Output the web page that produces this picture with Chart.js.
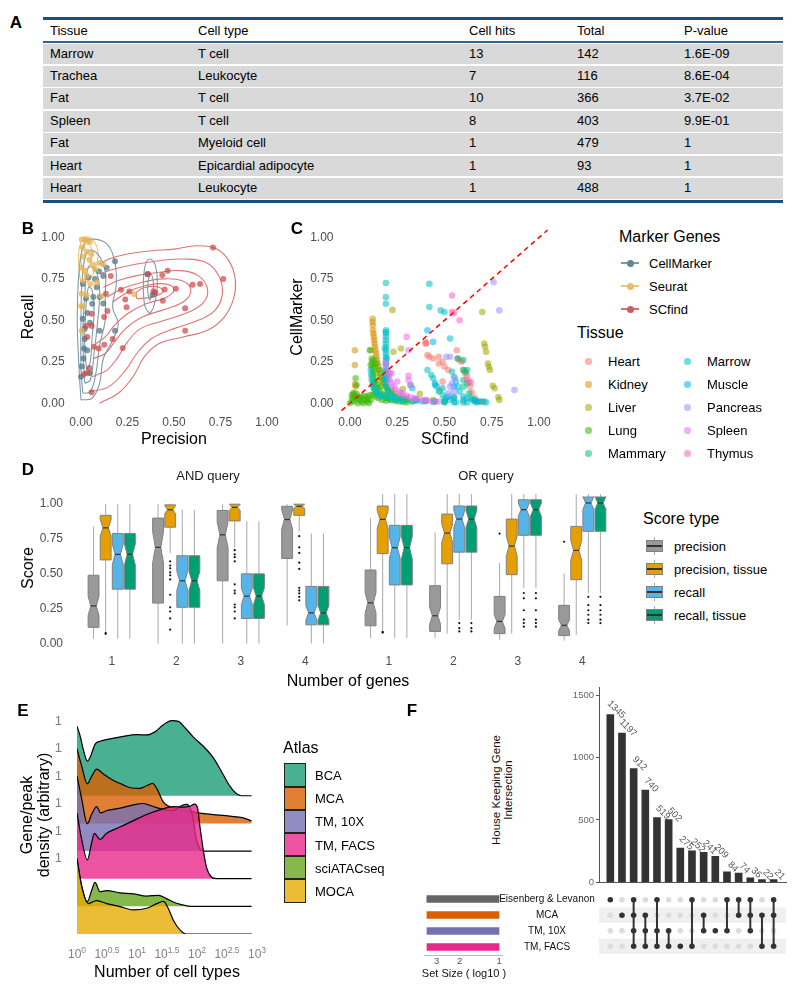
<!DOCTYPE html>
<html>
<head>
<meta charset="utf-8">
<script src="https://cdn.jsdelivr.net/npm/chart.js"></script>
<style>
  body { margin: 0; background: #fff; font-family: "Liberation Sans", Arial, sans-serif; }
  #page { position: relative; width: 800px; height: 993px; overflow: hidden; }
  #page canvas { position: absolute; }
  .abs { position: absolute; white-space: nowrap; line-height: 1; }
  .row { position: absolute; left: 0; width: 740px; background: #d9d9d9; font-size: 13px; }
  .row span, .hdr span { position: absolute; top: 0; }
  .hdr { position: absolute; left: 0; width: 740px; font-size: 13px; }
  .rule { position: absolute; left: 0; width: 740px; }
</style>
</head>
<body>
<div id="page"></div>
<script>
// ---------- A: table ----------
const tableTissue = ['Marrow', 'Trachea', 'Fat', 'Spleen', 'Fat', 'Heart', 'Heart'];
const tableCellType = ['T cell', 'Leukocyte', 'T cell', 'T cell', 'Myeloid cell', 'Epicardial adipocyte', 'Leukocyte'];
const tableCellHits = [13, 7, 10, 8, 1, 1, 1];
const tableTotal = [142, 116, 366, 403, 479, 93, 488];
const tablePValue = ['1.6E-09', '8.6E-04', '3.7E-02', '9.9E-01', '1', '1', '1'];
const tableHeader = ['Tissue', 'Cell type', 'Cell hits', 'Total', 'P-value'];

// ---------- B: precision / recall ----------
const cellMarkerPts = [[0.183,0.856],[0.138,0.817],[0.097,0.797],[0.075,0.749],[0.04,0.758],[0.01,0.72],[0.12,0.768],
  [0.084,0.70],[0.027,0.632],[0.066,0.641],[0.1,0.641],[0.12,0.602],[0.009,0.509],[0.034,0.544],[0.048,0.485],
  [0.1,0.437],[0.183,0.437],[0.357,0.778],[0.385,0.655],[0.016,0.33],[0.013,0.27],[0.004,0.222],[0.0,0.16],
  [0.048,0.183],[0.034,0.32],[0.02,0.388],[0.06,0.6],[0.02,0.45]];
const seuratPts = [[0.004,0.988],[0.02,0.988],[0.035,0.982],[0.048,0.973],[0.008,0.94],[0.03,0.914],[0.012,0.885],
  [0.045,0.865],[0.066,0.836],[0.004,0.817],[0.02,0.797],[0.075,0.807],[0.1,0.846],[0.12,0.836],[0.013,0.739],
  [0.05,0.72],[0.004,0.66],[0.03,0.651],[0.287,0.657],[0.0,0.587],[0.004,0.437],[0.01,0.583],[0.11,0.645],[0.084,0.729],
  [0.03,0.77],[0.055,0.9]];
const scfindPts = [[0.71,0.94],[0.765,0.75],[0.64,0.72],[0.6,0.715],[0.466,0.80],[0.437,0.774],[0.36,0.78],[0.39,0.676],
  [0.40,0.667],[0.45,0.686],[0.51,0.69],[0.44,0.618],[0.56,0.573],[0.56,0.437],[0.215,0.684],[0.26,0.674],[0.238,0.626],
  [0.245,0.579],[0.16,0.768],[0.134,0.66],[0.142,0.557],[0.124,0.52],[0.057,0.54],[0.057,0.466],[0.034,0.4],[0.17,0.388],
  [0.125,0.353],[0.224,0.333],[0.07,0.341],[0.095,0.33],[0.027,0.466],[0.045,0.212],[0.016,0.177],[0.057,0.066],[0.034,0.183]];
const scfindContours = [
  [[0.10,0.0],[0.2,0.06],[0.28,0.16],[0.34,0.28],[0.42,0.36],[0.55,0.40],[0.68,0.44],[0.77,0.52],[0.82,0.63],[0.83,0.74],[0.8,0.85],[0.73,0.93],[0.62,0.95],[0.5,0.93],[0.38,0.92],[0.25,0.9],[0.15,0.87],[0.1,0.84]],
  [[0.05,0.07],[0.15,0.1],[0.24,0.2],[0.3,0.3],[0.38,0.39],[0.5,0.45],[0.63,0.5],[0.72,0.56],[0.76,0.66],[0.74,0.77],[0.67,0.85],[0.55,0.87],[0.42,0.86],[0.3,0.84],[0.18,0.81],[0.1,0.78]],
  [[0.06,0.16],[0.14,0.2],[0.2,0.28],[0.25,0.37],[0.32,0.45],[0.45,0.5],[0.58,0.55],[0.66,0.61],[0.68,0.69],[0.63,0.77],[0.53,0.8],[0.42,0.79],[0.3,0.77],[0.2,0.74],[0.12,0.7]],
  [[0.07,0.27],[0.13,0.3],[0.18,0.37],[0.24,0.45],[0.33,0.52],[0.46,0.57],[0.56,0.62],[0.59,0.69],[0.54,0.74],[0.44,0.75],[0.33,0.73],[0.22,0.69],[0.14,0.64]],
  [[0.08,0.36],[0.13,0.4],[0.18,0.47],[0.25,0.54],[0.35,0.6],[0.46,0.64],[0.5,0.69],[0.45,0.72],[0.35,0.71],[0.25,0.67],[0.17,0.61]],
  [[0.3,0.63],[0.38,0.64],[0.44,0.67],[0.42,0.7],[0.35,0.7],[0.3,0.67],[0.3,0.63]]
];
const cellMarkerContours = [
  [[0.0,0.02],[0.06,0.03],[0.1,0.12],[0.12,0.27],[0.17,0.38],[0.2,0.48],[0.17,0.58],[0.19,0.72],[0.18,0.86],[0.14,0.96],[0.07,0.99],[0.02,0.97],[-0.01,0.8],[-0.02,0.5],[-0.01,0.2],[0.0,0.02]],
  [[0.01,0.06],[0.05,0.07],[0.08,0.18],[0.1,0.35],[0.13,0.5],[0.13,0.65],[0.13,0.8],[0.09,0.9],[0.04,0.92],[0.01,0.8],[0.0,0.5],[0.0,0.2],[0.01,0.06]],
  [[0.02,0.12],[0.05,0.14],[0.07,0.3],[0.09,0.5],[0.1,0.68],[0.08,0.8],[0.04,0.82],[0.02,0.65],[0.01,0.4],[0.02,0.12]],
  [[0.03,0.2],[0.05,0.25],[0.06,0.4],[0.07,0.55],[0.06,0.68],[0.04,0.7],[0.025,0.55],[0.02,0.35],[0.03,0.2]],
  [[0.37,0.54],[0.39,0.58],[0.41,0.7],[0.4,0.83],[0.37,0.87],[0.345,0.83],[0.335,0.7],[0.345,0.58],[0.37,0.54]],
  [[0.37,0.62],[0.385,0.66],[0.39,0.72],[0.375,0.78],[0.36,0.73],[0.36,0.66],[0.37,0.62]]
];
const seuratContours = [
  [[0.0,0.72],[0.04,0.74],[0.08,0.82],[0.09,0.92],[0.06,0.99],[0.02,1.0],[-0.01,0.93],[-0.01,0.8],[0.0,0.72]],
  [[0.01,0.8],[0.04,0.82],[0.06,0.9],[0.04,0.96],[0.01,0.94],[0.0,0.86],[0.01,0.8]]
];
const unitTicks = [0, 0.25, 0.5, 0.75, 1];

// ---------- C: SCfind vs CellMarker by tissue ----------
const tissueNames = ['Heart', 'Kidney', 'Liver', 'Lung', 'Mammary', 'Marrow', 'Muscle', 'Pancreas', 'Spleen', 'Thymus'];
const tissueColors = ['248,118,109', '216,144,0', '163,165,0', '57,182,0', '0,191,125', '0,191,196', '0,176,246', '149,144,255', '231,107,243', '255,98,188'];
const heartPts = [[0.40,0.37],[0.405,0.36],[0.41,0.29],[0.42,0.28],[0.44,0.27],[0.47,0.28],[0.47,0.24],[0.5,0.22],[0.52,0.2],
  [0.49,0.13],[0.565,0.32],[0.57,0.27],[0.58,0.26],[0.59,0.25],[0.6,0.2],[0.61,0.18],[0.62,0.165],[0.63,0.13],[0.635,0.1],
  [0.645,0.065],[0.66,0.03],[0.67,0.015],[0.7,0.008],[0.4,0.36],[0.49,0.25]];
const kidneyPts = [[0.12,0.51],[0.12,0.49],[0.121,0.47],[0.122,0.44],[0.124,0.42],[0.126,0.40],[0.128,0.38],[0.13,0.36],
  [0.132,0.34],[0.135,0.32],[0.138,0.30],[0.14,0.28],[0.143,0.26],[0.146,0.24],[0.15,0.22],[0.155,0.2],[0.16,0.18],
  [0.165,0.16],[0.17,0.14],[0.18,0.12],[0.19,0.1],[0.2,0.085],[0.22,0.07],[0.24,0.055],[0.27,0.04],[0.3,0.03],[0.35,0.02],
  [0.4,0.014],[0.45,0.01],[0.5,0.008],[0.026,0.32],[0.026,0.23],[0.027,0.115],[0.03,0.1],[0.02,0.06]];
const liverPts = [[0.225,0.563],[0.23,0.31],[0.27,0.33],[0.28,0.086],[0.37,0.057],[0.476,0.076],[0.7,0.55],[0.71,0.36],
  [0.715,0.34],[0.72,0.31],[0.73,0.24],[0.735,0.22],[0.74,0.2],[0.755,0.105],[0.765,0.09],[0.785,0.037],[0.79,0.02],
  [0.21,0.18],[0.22,0.08],[0.2,0.06],[0.44,0.02],[0.11,0.32]];
const lungPts = [[0.0,0.0],[0.01,0.02],[0.01,0.05],[0.02,0.01],[0.02,0.06],[0.03,0.03],[0.04,0.0],[0.04,0.04],[0.05,0.02],
  [0.06,0.01],[0.06,0.04],[0.07,0.0],[0.08,0.02],[0.09,0.01],[0.09,0.04],[0.1,0.0],[0.11,0.02],[0.12,0.05],
  [0.115,0.27],[0.117,0.25],[0.118,0.23],[0.12,0.21],[0.12,0.19],[0.121,0.17],[0.122,0.15],[0.124,0.13],[0.125,0.11],
  [0.127,0.09],[0.13,0.07],[0.125,0.26],[0.13,0.22],[0.135,0.18],[0.14,0.14],[0.145,0.11],[0.15,0.09],
  [0.16,0.07],[0.17,0.055],[0.18,0.045],[0.19,0.035],[0.2,0.028],[0.21,0.022],[0.22,0.018],[0.24,0.013],[0.26,0.01],
  [0.28,0.008],[0.3,0.005],[0.14,0.24],[0.155,0.2],[0.165,0.16],[0.175,0.13],[0.19,0.1],[0.2,0.07],[0.22,0.06],
  [0.24,0.04],[0.27,0.03],[0.3,0.02],[0.33,0.01],[0.03,0.15],[0.035,0.11],[0.105,0.32],
  [0.015,0.035],[0.035,0.055],[0.055,0.03],[0.075,0.045],[0.095,0.025],[0.105,0.05],[0.135,0.04],[0.15,0.03],
  [0.17,0.02],[0.19,0.015],[0.13,0.12],[0.14,0.06],[0.16,0.1],[0.11,0.23]];
const mammaryPts = [[0.57,0.27],[0.6,0.26],[0.6,0.2],[0.61,0.19],[0.62,0.2],[0.6,0.14],[0.62,0.12],[0.6,0.1],[0.63,0.06],
  [0.64,0.03],[0.66,0.01],[0.69,0.01],[0.55,0.04],[0.5,0.02],[0.6,0.005]];
const marrowPts = [[0.19,0.725],[0.19,0.64],[0.19,0.6],[0.19,0.44],[0.19,0.43],[0.19,0.42],[0.19,0.40],[0.19,0.38],
  [0.19,0.36],[0.19,0.34],[0.19,0.32],[0.19,0.30],[0.19,0.28],[0.19,0.26],[0.19,0.24],[0.19,0.22],[0.19,0.20],[0.19,0.18],
  [0.19,0.16],[0.19,0.14],[0.19,0.12],[0.195,0.10],[0.2,0.08],[0.21,0.06],[0.22,0.045],[0.24,0.035],[0.27,0.025],
  [0.3,0.02],[0.35,0.015],[0.4,0.012],[0.45,0.01],[0.5,0.008],[0.55,0.006],
  [0.11,0.2],[0.112,0.17],[0.115,0.14],[0.12,0.115],[0.13,0.09],[0.14,0.07],[0.155,0.055],[0.17,0.045],[0.19,0.035],
  [0.21,0.028],[0.24,0.02],[0.28,0.015],[0.33,0.012],[0.38,0.01],[0.44,0.008],[0.5,0.006],[0.56,0.005],[0.62,0.005],
  [0.67,0.005],[0.72,0.005],[0.42,0.72],[0.42,0.58],[0.48,0.56],[0.5,0.55],[0.53,0.39],[0.41,0.2],[0.43,0.17],
  [0.44,0.15],[0.45,0.12],[0.46,0.1],[0.47,0.07],[0.49,0.05],[0.51,0.035],[0.53,0.02],[0.54,0.19],[0.55,0.16],
  [0.56,0.13],[0.57,0.1],[0.58,0.07],[0.6,0.04],[0.62,0.03],[0.65,0.02],[0.68,0.01],[0.71,0.01],[0.32,0.11],[0.33,0.09],
  [0.185,0.33],[0.195,0.27],[0.185,0.19],[0.2,0.15],[0.125,0.1],[0.145,0.06],[0.16,0.04],[0.23,0.03],[0.26,0.02]];
const musclePts = [[0.41,0.44],[0.44,0.37],[0.35,0.02],[0.45,0.11],[0.49,0.09],[0.52,0.04],[0.55,0.03],[0.6,0.02],
  [0.66,0.02],[0.55,0.1],[0.19,0.15]];
const pancreasPts = [[0.76,0.73],[0.79,0.56],[0.87,0.08],[0.53,0.28],[0.51,0.28],[0.55,0.07],[0.53,0.1],[0.19,0.24],
  [0.555,0.15],[0.54,0.12],[0.52,0.06]];
const spleenPts = [[0.19,0.24],[0.2,0.2],[0.205,0.17],[0.21,0.14],[0.22,0.12],[0.23,0.1],[0.24,0.085],[0.26,0.07],
  [0.28,0.055],[0.3,0.045],[0.32,0.035],[0.35,0.028],[0.38,0.02],[0.41,0.015],[0.44,0.01],[0.47,0.01],[0.22,0.18],
  [0.25,0.13],[0.3,0.4],[0.31,0.32],[0.31,0.165],[0.31,0.14],[0.32,0.11],[0.27,0.06],[0.34,0.03],[0.4,0.02]];
const thymusPts = [[0.54,0.65],[0.54,0.55],[0.55,0.545],[0.58,0.5],[0.64,0.125],[0.62,0.14]];
const tissuePts = [heartPts, kidneyPts, liverPts, lungPts, mammaryPts, marrowPts, musclePts, pancreasPts, spleenPts, thymusPts];
const identityLine = [-0.045, 1.045];

// ---------- D: boxplots [lo, q1, median, q3, hi] per number of genes ----------
const geneCounts = [1, 2, 3, 4];
const scoreTypes = ['precision', 'precision, tissue', 'recall', 'recall, tissue'];
const scoreColors = ['#999999', '#E69F00', '#56B4E9', '#009E73'];
const andPrecision = [[0.034,0.116,0.27,0.49,0.84],[0.0,0.29,0.69,0.90,1.0],[0.0,0.45,0.78,0.955,1.0],[0.13,0.61,0.89,0.985,1.0]];
const andPrecTissue = [[0.085,0.60,0.83,0.92,1.0],[0.65,0.835,0.96,0.995,1.0],[0.69,0.88,0.977,1.0,1.0],[0.805,0.92,0.985,1.0,1.0]];
const andRecall = [[0.034,0.39,0.64,0.79,1.0],[0.0,0.26,0.45,0.63,0.96],[0.0,0.18,0.34,0.50,0.877],[0.0,0.134,0.22,0.41,0.79]];
const andRecallTissue = [[0.034,0.39,0.64,0.79,1.0],[0.0,0.26,0.45,0.63,0.96],[0.0,0.18,0.34,0.50,0.877],[0.0,0.134,0.22,0.41,0.79]];
const andPrecisionOut = [[], [], [], []];
const andPrecTissueOut = [[0.07,0.075],[0.59,0.56,0.54,0.51,0.49,0.46,0.35,0.26,0.23,0.18,0.10],
  [0.67,0.64,0.62,0.59,0.425,0.38,0.36,0.28,0.26,0.23,0.18],[0.77,0.69,0.65,0.58,0.535,0.4,0.38,0.36,0.335,0.31]];
const andRecallOut = [[], [], [], []];
const orPrecision = [[0.034,0.116,0.27,0.49,0.84],[0.034,0.078,0.183,0.385,0.743],[0.022,0.063,0.145,0.313,0.537],[0.016,0.05,0.119,0.253,0.465]];
const orPrecTissue = [[0.085,0.60,0.83,0.92,1.0],[0.063,0.532,0.738,0.866,1.0],[0.063,0.459,0.651,0.832,1.0],[0.056,0.425,0.622,0.783,1.0]];
const orRecall = [[0.034,0.39,0.64,0.79,1.0],[0.157,0.61,0.832,0.92,1.0],[0.37,0.723,0.895,0.962,1.0],[0.336,0.75,0.94,0.98,1.0]];
const orRecallTissue = [[0.034,0.39,0.64,0.79,1.0],[0.157,0.61,0.832,0.92,1.0],[0.37,0.723,0.895,0.962,1.0],[0.336,0.75,0.94,0.98,1.0]];
const orPrecisionOut = [[], [], [0.735], [0.68]];
const orPrecTissueOut = [[0.07,0.075], [], [], []];
const orRecallOut = [[], [0.134,0.1,0.078], [0.336,0.3,0.22,0.157,0.134,0.11], [0.31,0.255,0.22,0.19,0.157,0.134]];
const BOX_N = 73;
const DODGE = 0.1875;

// ---------- E: ridgelines, [log10(cell types), density] ----------
const atlasNames = ['BCA', 'MCA', 'TM, 10X', 'TM, FACS', 'sciATACseq', 'MOCA'];
const atlasColors = ['27,158,119', '217,95,2', '117,112,179', '231,41,138', '102,166,30', '230,171,2'];
const bcaDensity = [[0,2.52],[0.05,2.18],[0.106,1.67],[0.172,1.25],[0.228,1.44],[0.30,1.86],[0.383,1.97],[0.55,2.06],
  [0.772,2.15],[0.994,2.21],[1.16,2.2],[1.3,2.31],[1.44,2.57],[1.58,2.72],[1.69,2.69],[1.8,2.46],[1.94,2.12],[2.11,1.78],
  [2.27,1.38],[2.41,0.87],[2.55,0.34],[2.66,0.07],[2.74,0],[2.91,0]];
const mcaDensity = [[0,2.7],[0.078,2.07],[0.172,1.43],[0.244,1.7],[0.328,1.96],[0.44,1.79],[0.578,1.59],[0.744,1.42],
  [0.91,1.28],[1.05,1.27],[1.16,1.36],[1.26,1.45],[1.34,1.22],[1.44,0.77],[1.55,0.6],[1.72,0.52],[1.88,0.45],[2.05,0.37],
  [2.27,0.32],[2.55,0.26],[2.77,0.2],[2.91,0.09]];
const tm10xDensity = [[0,2.71],[0.078,1.89],[0.172,0.99],[0.244,1.33],[0.328,1.61],[0.394,1.38],[0.494,1.46],[0.717,1.55],
  [0.94,1.67],[1.1,1.72],[1.27,1.61],[1.44,1.5],[1.61,1.46],[1.74,1.64],[1.83,1.69],[1.89,1.53],[1.94,1.1],[1.99,0.42],
  [2.05,0.08],[2.12,0],[2.91,0]];
const tmFacsDensity = [[0,2.38],[0.078,1.42],[0.172,0.68],[0.244,1.3],[0.289,1.64],[0.383,1.42],[0.494,1.64],[0.717,1.87],
  [0.94,2.1],[1.16,2.32],[1.38,2.49],[1.61,2.61],[1.77,2.59],[1.88,2.62],[1.96,2.7],[2.01,2.55],[2.05,1.87],[2.11,0.96],
  [2.16,0.4],[2.24,0.06],[2.32,0],[2.91,0]];
const sciAtacDensity = [[0,1.7],[0.078,0.74],[0.172,0.17],[0.244,0.57],[0.3,0.87],[0.383,0.53],[0.494,0.57],[0.717,0.49],
  [0.94,0.45],[1.16,0.37],[1.36,0.4],[1.49,0.28],[1.66,0.11],[1.83,0.02],[1.94,0],[2.91,0]];
const mocaDensity = [[0,2.74],[0.078,1.72],[0.189,1.1],[0.328,1.21],[0.494,1.1],[0.717,0.99],[0.94,0.87],[1.16,0.93],
  [1.33,1.1],[1.44,1.18],[1.52,0.93],[1.61,0.48],[1.72,0.14],[1.82,0],[2.91,0]];
const atlasDensities = [bcaDensity, mcaDensity, tm10xDensity, tmFacsDensity, sciAtacDensity, mocaDensity];
const ridgeTickValues = [2.72, 3.71, 4.71, 5.7, 6.7, 7.69];
const ridgeTickLabels = ['1', '1', '1', '1', '1', '1'];
const logTicks = [0, 0.5, 1, 1.5, 2, 2.5, 3];
const logTickExps = ['0', '0.5', '1', '1.5', '2', '2.5', '3'];

// ---------- F: UpSet ----------
const setNames = ['Eisenberg & Levanon', 'MCA', 'TM, 10X', 'TM, FACS'];
const setColors = ['#666666', '#D95F02', '#7570B3', '#E7298A'];
const setSizeLog = [3.56, 3.55, 3.55, 3.55];
const setSizeTicks = [1, 2, 3];
const intersectionSizes = [1345, 1197, 912, 740, 519, 502, 275, 252, 241, 209, 84, 74, 36, 22, 21];
const intersectionSets = [[1],[2],[1,2,3,4],[2,3,4],[1,3,4],[3,4],[4],[1,4],[2,3],[3],[1,3],[1,2],[1,2,3],[2,4],[1,2,4]];
const intersectionTicks = [0, 500, 1000, 1500];
const shadedRows = [2, 4];

// ================= drawing =================
const FONT = '"Liberation Sans", Arial, sans-serif';
Chart.defaults.font.family = FONT;
Chart.defaults.animation = false;
Chart.defaults.responsive = false;
Chart.defaults.plugins.legend.display = false;
Chart.defaults.plugins.tooltip.enabled = false;

const page = document.getElementById('page');

function addCanvas(left, top, w, h) {
  const c = document.createElement('canvas');
  c.width = w; c.height = h;
  c.style.left = left + 'px'; c.style.top = top + 'px';
  page.appendChild(c);
  return c;
}

function addText(str, x, y, o = {}) {
  const d = document.createElement('div');
  d.className = 'abs';
  d.textContent = str;
  d.style.left = x + 'px';
  d.style.top = y + 'px';
  d.style.fontSize = (o.size || 13) + 'px';
  d.style.color = o.color || '#000';
  if (o.bold) d.style.fontWeight = 'bold';
  let t = o.anchor === 'left' ? 'translate(0,-50%)' : 'translate(-50%,-50%)';
  if (o.rotate) t += ' rotate(-90deg)';
  d.style.transform = t;
  page.appendChild(d);
  return d;
}

function addBox(x, y, w, h, css) {
  const d = document.createElement('div');
  d.style.cssText = `position:absolute;left:${x}px;top:${y}px;width:${w}px;height:${h}px;box-sizing:border-box;` + css;
  page.appendChild(d);
  return d;
}

const fixedTicks = vals => (scale) => { scale.ticks = vals.map(v => ({ value: v })); };
const noGrid = { display: false, drawTicks: false };

// ----- A -----
(function () {
  const t = document.createElement('div');
  t.style.cssText = 'position:absolute;left:43px;top:16.5px;width:740px;height:190px;';
  page.appendChild(t);
  const colX = [7, 155, 426, 534, 641];
  const add = (cls, top, h, css) => {
    const d = document.createElement('div');
    d.className = cls;
    d.style.cssText += `top:${top}px;height:${h}px;` + (css || '');
    t.appendChild(d);
    return d;
  };
  add('rule', 0, 3, 'background:#1f4e79;');
  const hdr = add('hdr', 3, 21.5, 'line-height:21.5px;');
  tableHeader.forEach((h, i) => { const s = document.createElement('span'); s.textContent = h; s.style.left = colX[i] + 'px'; hdr.appendChild(s); });
  add('rule', 24.5, 1.8, 'background:#2e6395;');
  tableTissue.forEach((tis, r) => {
    const row = add('row', 26.3 + r * 22.4 + 0.8, 20.8, 'line-height:20.8px;');
    [tis, tableCellType[r], tableCellHits[r], tableTotal[r], tablePValue[r]].forEach((v, i) => {
      const s = document.createElement('span'); s.textContent = v; s.style.left = colX[i] + 'px'; row.appendChild(s);
    });
  });
  add('rule', 26.3 + 7 * 22.4, 3, 'background:#1f4e79;');
})();
addText('A', 16, 22, { size: 17, bold: true });

// ----- B -----
const toXY = arr => arr.map(p => ({ x: p[0], y: p[1] }));
const contourSet = (list, color) => list.map(c => ({
  type: 'scatter', data: toXY(c), showLine: true, tension: 0.4, pointRadius: 0,
  borderColor: color, borderWidth: 1.1, fill: false, order: 2
}));
const unitAxis = (width, height, isX) => ({
  type: 'linear', min: -0.05, max: 1.05,
  afterBuildTicks: fixedTicks(unitTicks),
  grid: noGrid, border: { display: false },
  ticks: { color: '#4d4d4d', font: { size: 12 }, padding: isX ? 4 : 7, callback: v => v.toFixed(2) },
  afterFit: s => { if (isX) s.height = height; else s.width = width; }
});

new Chart(addCanvas(0, 215, 285, 220), {
  type: 'scatter',
  data: {
    datasets: [
      { data: toXY(scfindPts), backgroundColor: 'rgba(205,70,70,0.72)', pointRadius: 3, pointBorderWidth: 0, order: 0 },
      { data: toXY(seuratPts), backgroundColor: 'rgba(228,178,78,0.75)', pointRadius: 3, pointBorderWidth: 0, order: 0 },
      { data: toXY(cellMarkerPts), backgroundColor: 'rgba(82,120,135,0.75)', pointRadius: 3, pointBorderWidth: 0, order: 0 },
      ...contourSet(cellMarkerContours, 'rgba(120,150,165,0.95)'),
      ...contourSet(seuratContours, 'rgba(235,195,110,0.95)'),
      ...contourSet(scfindContours, 'rgba(220,100,100,0.9)')
    ]
  },
  options: {
    layout: { padding: { left: 0, top: 8.5, right: 8.7, bottom: 0 } },
    scales: { x: unitAxis(0, 23.5, true), y: unitAxis(71.7, 0, false) }
  }
});
addText('B', 28, 228, { size: 17, bold: true });
addText('Recall', 28, 317, { size: 16, rotate: true });
addText('Precision', 174, 439, { size: 16 });

// ----- C -----
new Chart(addCanvas(285, 215, 270, 220), {
  type: 'scatter',
  data: {
    datasets: [
      { type: 'line', data: identityLine.map(v => ({ x: v, y: v })), borderColor: '#ff0000', borderWidth: 1.5,
        borderDash: [5, 4], pointRadius: 0, fill: false, order: -1 },
      ...tissuePts.map((pts, i) => ({
        data: toXY(pts), backgroundColor: `rgba(${tissueColors[i]},0.55)`, pointRadius: 3.3,
        pointBorderWidth: 0, order: 10 - i
      }))
    ]
  },
  options: {
    layout: { padding: { left: 0, top: 8.5, right: 6.5, bottom: 0 } },
    scales: { x: unitAxis(0, 23.5, true), y: unitAxis(55.5, 0, false) }
  }
});
addText('C', 297, 228, { size: 17, bold: true });
addText('CellMarker', 297, 317, { size: 16, rotate: true });
addText('SCfind', 445, 439, { size: 16 });

// legends for B and C
addText('Marker Genes', 619, 237, { size: 16, anchor: 'left' });
[['CellMarker', '126,156,168', '95,135,150'], ['Seurat', '235,199,127', '229,190,112'], ['SCfind', '217,112,112', '204,92,92']].forEach((m, i) => {
  const y = 263 + i * 23;
  addBox(621, y - 0.75, 18, 1.5, `background:rgb(${m[1]});`);
  addBox(626.5, y - 3.5, 7, 7, `background:rgb(${m[2]});border-radius:50%;`);
  addText(m[0], 649, y, { size: 13, anchor: 'left' });
});
addText('Tissue', 577, 333, { size: 16, anchor: 'left' });
tissueNames.forEach((n, i) => {
  const col = Math.floor(i / 5), row = i % 5;
  const y = 361 + row * 23, x = col ? 687 : 588;
  addBox(x - 3, y - 3, 6.5, 6.5, `background:rgba(${tissueColors[i]},0.55);border-radius:50%;`);
  addText(n, x + 20, y, { size: 13, anchor: 'left' });
});

// ----- D -----
const boxPlugin = {
  id: 'boxes',
  afterDatasetsDraw(chart) {
    const { ctx, scales: { x, y } } = chart;
    const unit = x.getPixelForValue(1) - x.getPixelForValue(0);
    const half = unit * DODGE * 0.9 / 2, inset = half * 0.5;
    const py = v => y.getPixelForValue(v);
    ctx.save();
    chart.data.datasets.forEach(ds => {
      ds.boxes.forEach((b, i) => {
        const [lo, q1, med, q3, hi] = b;
        const cx = x.getPixelForValue(geneCounts[i] + (ds.slot - 1.5) * DODGE);
        const nd = 1.58 * (q3 - q1) / Math.sqrt(BOX_N);
        const l = cx - half, r = cx + half;
        ctx.strokeStyle = '#a8a8a8'; ctx.lineWidth = 1;
        ctx.beginPath();
        ctx.moveTo(cx, py(q3)); ctx.lineTo(cx, py(hi));
        ctx.moveTo(cx, py(q1)); ctx.lineTo(cx, py(lo));
        ctx.stroke();
        ctx.beginPath();
        ctx.moveTo(l, py(q1)); ctx.lineTo(l, py(med - nd)); ctx.lineTo(l + inset, py(med)); ctx.lineTo(l, py(med + nd));
        ctx.lineTo(l, py(q3)); ctx.lineTo(r, py(q3)); ctx.lineTo(r, py(med + nd)); ctx.lineTo(r - inset, py(med));
        ctx.lineTo(r, py(med - nd)); ctx.lineTo(r, py(q1)); ctx.closePath();
        ctx.fillStyle = ds.backgroundColor; ctx.fill();
        ctx.strokeStyle = '#808080'; ctx.stroke();
        ctx.strokeStyle = '#333'; ctx.lineWidth = 1.2;
        ctx.beginPath(); ctx.moveTo(l + inset, py(med)); ctx.lineTo(r - inset, py(med)); ctx.stroke();
        ctx.fillStyle = '#111';
        ds.outliers[i].forEach(v => { ctx.beginPath(); ctx.arc(cx, py(v), 1.1, 0, Math.PI * 2); ctx.fill(); });
      });
    });
    ctx.restore();
  }
};
function boxChart(canvas, groups, outs, withY, pad) {
  return new Chart(canvas, {
    type: 'scatter',
    data: {
      datasets: groups.map((g, k) => ({
        label: scoreTypes[k], data: [], slot: k, backgroundColor: scoreColors[k], boxes: g, outliers: outs[k]
      }))
    },
    options: {
      layout: { padding: pad },
      scales: {
        x: {
          type: 'linear', min: 0.4, max: 4.6, afterBuildTicks: fixedTicks(geneCounts),
          grid: noGrid, border: { display: false },
          ticks: { color: '#4d4d4d', font: { size: 12 }, padding: 4, callback: v => String(v) },
          afterFit: s => { s.height = 24.5; }
        },
        y: {
          display: withY, type: 'linear', min: -0.05, max: 1.05, afterBuildTicks: fixedTicks(unitTicks),
          grid: noGrid, border: { display: false },
          ticks: { color: '#4d4d4d', font: { size: 12 }, padding: 10, callback: v => v.toFixed(2) },
          afterFit: s => { s.width = withY ? 73 : 0; }
        }
      }
    },
    plugins: [boxPlugin]
  });
}
boxChart(addCanvas(0, 480, 347, 195),
  [andPrecision, andPrecTissue, andRecall, andRecallTissue],
  [andPrecisionOut, andPrecTissueOut, andRecallOut, andRecallOut], true,
  { left: 0, top: 6.6, right: 3, bottom: 0 });
boxChart(addCanvas(347, 480, 280, 195),
  [orPrecision, orPrecTissue, orRecall, orRecallTissue],
  [orPrecisionOut, orPrecTissueOut, orRecallOut, orRecallOut], false,
  { left: 3, top: 6.6, right: 6, bottom: 0 });
addText('D', 28, 469, { size: 17, bold: true });
addText('AND query', 208, 475, { size: 13, color: '#1a1a1a' });
addText('OR query', 486, 475, { size: 13, color: '#1a1a1a' });
addText('Score', 28, 568, { size: 16, rotate: true });
addText('Number of genes', 348, 681, { size: 16 });
addText('Score type', 643, 519, { size: 16, anchor: 'left' });
scoreTypes.forEach((s, i) => {
  const y = 546 + i * 23;
  addBox(654, y - 9, 1, 18, 'background:#a8a8a8;');
  addBox(646, y - 6, 17, 12, `background:${scoreColors[i]};border:1px solid #808080;`);
  addBox(647, y - 0.6, 15, 1.2, 'background:#333;');
  addText(s, 674, y, { size: 13, anchor: 'left' });
});

// ----- E -----
const powLabels = {
  id: 'powLabels',
  afterDraw(chart) {
    const xs = chart.scales.x, ctx = chart.ctx, y = chart.chartArea.bottom + 24;
    ctx.save();
    ctx.fillStyle = '#808080';
    ctx.textBaseline = 'alphabetic';
    logTicks.forEach((v, i) => {
      ctx.font = '12px ' + FONT; const wb = ctx.measureText('10').width;
      ctx.font = '8.5px ' + FONT; const we = ctx.measureText(logTickExps[i]).width;
      const x0 = xs.getPixelForValue(v) - (wb + we) / 2;
      ctx.font = '12px ' + FONT; ctx.fillText('10', x0, y);
      ctx.font = '8.5px ' + FONT; ctx.fillText(logTickExps[i], x0 + wb, y - 5);
    });
    ctx.restore();
  }
};
const ridgeBase = atlasNames.map((n, i) => atlasNames.length - 1 - i);
new Chart(addCanvas(0, 690, 270, 275), {
  type: 'scatter',
  data: {
    datasets: atlasDensities.map((d, i) => ({
      data: d.map(p => ({ x: p[0], y: ridgeBase[i] + p[1] })),
      showLine: true, cubicInterpolationMode: 'monotone', pointRadius: 0,
      borderColor: '#000', borderWidth: 1.2,
      backgroundColor: `rgba(${atlasColors[i]},0.8)`,
      fill: { value: ridgeBase[i] }, order: atlasNames.length - i
    }))
  },
  options: {
    layout: { padding: { left: 0, top: 9, right: 13, bottom: 0 } },
    scales: {
      x: { type: 'linear', min: 0, max: 3, grid: noGrid, border: { display: false }, ticks: { display: false },
           afterFit: s => { s.height = 31; } },
      y: { type: 'linear', min: 0, max: 8, afterBuildTicks: fixedTicks(ridgeTickValues),
           grid: noGrid, border: { display: false },
           ticks: { color: '#7f7f7f', font: { size: 13 }, padding: 15, callback: (v, i) => ridgeTickLabels[i] },
           afterFit: s => { s.width = 77; } }
    }
  },
  plugins: [powLabels]
});
addText('E', 23, 710, { size: 17, bold: true });
addText('Gene/peak', 27, 815, { size: 16, rotate: true });
addText('density (arbitrary)', 44, 815, { size: 16, rotate: true });
addText('Number of cell types', 167, 972, { size: 16 });
addText('Atlas', 283, 748, { size: 16, anchor: 'left' });
atlasNames.forEach((n, i) => {
  const y = 775 + i * 23.2;
  addBox(284, y - 11.6, 22, 23.2, `background:rgba(${atlasColors[i]},0.8);border:1.2px solid #222;`);
  addText(n, 315, y, { size: 13, anchor: 'left' });
});

// ----- F -----
const barLabels = {
  id: 'barLabels',
  afterDatasetsDraw(chart) {
    const ctx = chart.ctx;
    ctx.save();
    ctx.fillStyle = '#555';
    ctx.font = '9.5px ' + FONT;
    ctx.textAlign = 'center';
    ctx.textBaseline = 'middle';
    chart.getDatasetMeta(0).data.forEach((bar, i) => {
      ctx.save();
      ctx.translate(bar.x + 6, bar.y - 5);
      ctx.rotate(Math.PI / 4);
      ctx.fillText(String(intersectionSizes[i]), 0, 0);
      ctx.restore();
    });
    ctx.restore();
  }
};
const colAxis = { type: 'linear', min: 0.03, max: 16.06, offset: false };
new Chart(addCanvas(540, 680, 260, 210), {
  type: 'bar',
  data: { datasets: [{ data: intersectionSizes.map((v, i) => ({ x: i + 1, y: v })), backgroundColor: '#333333', barThickness: 7 }] },
  options: {
    layout: { padding: { left: 0, top: 3, right: 14, bottom: 0 } },
    scales: {
      x: { ...colAxis, grid: noGrid, border: { display: true, color: '#555', width: 1 }, ticks: { display: false },
           afterFit: s => { s.height = 4; } },
      y: { type: 'linear', min: 0, max: 1560, afterBuildTicks: fixedTicks(intersectionTicks),
           grid: { display: true, drawOnChartArea: false, drawTicks: true, tickLength: 3, color: '#555' },
           border: { display: true, color: '#555', width: 1 },
           ticks: { color: '#666', font: { size: 9.5 }, padding: 2, callback: v => String(v) },
           afterFit: s => { s.width = 59; } }
    }
  },
  plugins: [barLabels]
});

const bandPlugin = {
  id: 'bands',
  beforeDatasetsDraw(chart) {
    const { ctx, chartArea: a, scales: { y } } = chart;
    ctx.save();
    ctx.fillStyle = '#f0f0f0';
    shadedRows.forEach(r => {
      const t = y.getPixelForValue(r - 0.5), b = y.getPixelForValue(r + 0.5);
      ctx.fillRect(a.left, Math.min(t, b), a.right - a.left, Math.abs(b - t));
    });
    ctx.restore();
  }
};
const activeDots = [], inactiveDots = [];
intersectionSets.forEach((sets, i) => {
  setNames.forEach((n, r) => (sets.includes(r + 1) ? activeDots : inactiveDots).push({ x: i + 1, y: r + 1 }));
});
const linkSets = intersectionSets.map((s, i) => s.length > 1 ? {
  data: [{ x: i + 1, y: Math.min(...s) }, { x: i + 1, y: Math.max(...s) }],
  showLine: true, borderColor: '#333', borderWidth: 2, pointRadius: 0, order: 1
} : null).filter(Boolean);
new Chart(addCanvas(540, 888, 260, 70), {
  type: 'scatter',
  data: {
    datasets: [
      { data: activeDots, backgroundColor: '#333', pointRadius: 2.8, pointBorderWidth: 0, order: 0 },
      ...linkSets,
      { data: inactiveDots, backgroundColor: '#dcdcdc', pointRadius: 2.8, pointBorderWidth: 0, order: 2 }
    ]
  },
  options: {
    layout: { padding: { left: 59, top: 3, right: 14, bottom: 3 } },
    scales: {
      x: { ...colAxis, display: false },
      y: { type: 'linear', min: 0.5, max: 4.5, reverse: true, display: false }
    }
  },
  plugins: [bandPlugin]
});

new Chart(addCanvas(415, 888, 100, 80), {
  type: 'bar',
  data: {
    labels: setNames,
    datasets: [{ data: setSizeLog.map(v => [1, v]), backgroundColor: setColors, barThickness: 7 }]
  },
  options: {
    indexAxis: 'y',
    layout: { padding: { left: 9, top: 3, right: 13, bottom: 0 } },
    scales: {
      x: { type: 'logarithmic', reverse: true, min: 0.949, max: 3.74, afterBuildTicks: fixedTicks(setSizeTicks),
           grid: noGrid, border: { display: true, color: '#bbb', width: 1 },
           ticks: { color: '#555', font: { size: 9.5, lineHeight: 1 }, padding: 2, callback: v => String(v) },
           afterFit: s => { s.height = 13; } },
      y: { display: false }
    }
  }
});
addText('F', 412, 710, { size: 17, bold: true });
addText('House Keeping Gene', 497, 790, { size: 11.5, rotate: true, color: '#111' });
addText('Intersection', 509, 790, { size: 11.5, rotate: true, color: '#111' });
setNames.forEach((n, i) => addText(n, 547, 899 + i * 16, { size: 10, color: '#111' }));
addText('Set Size ( log10 )', 464, 973, { size: 11, color: '#111' });
</script>
</body>
</html>
